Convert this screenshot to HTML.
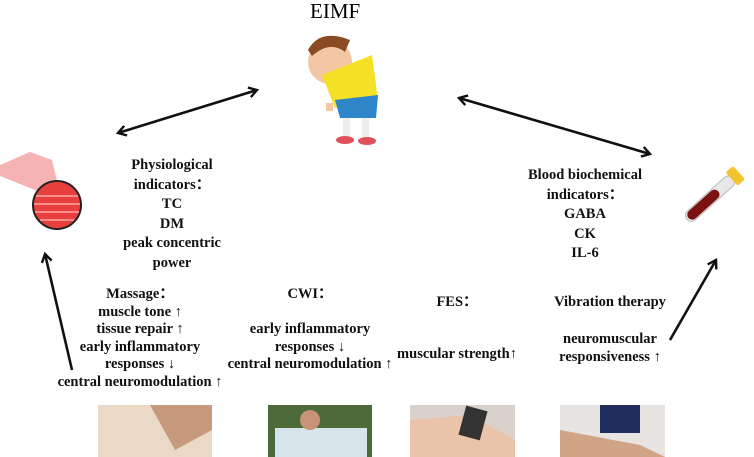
<!DOCTYPE html>
<html><head><meta charset="utf-8"><style>
body{margin:0;width:754px;height:457px;background:#fff;position:relative;overflow:hidden;font-family:"Liberation Serif",serif;}
.t{position:absolute;text-align:center;font-weight:bold;font-size:14.5px;line-height:19.5px;color:#111;white-space:nowrap;transform:translateX(-50%);}
.b{position:absolute;text-align:center;font-weight:bold;font-size:14.5px;line-height:17.5px;color:#111;white-space:nowrap;transform:translateX(-50%);}
</style></head><body>
<div style="position:absolute;left:310px;top:-1px;font-size:21px;">EIMF</div>

<svg width="754" height="457" style="position:absolute;left:0;top:0">
<defs><marker id="a" markerWidth="12" markerHeight="12" refX="9" refY="6" orient="auto-start-reverse" markerUnits="userSpaceOnUse"><path d="M1,1 L9,6 L1,11" fill="none" stroke="#111" stroke-width="2.4"/></marker></defs>
<g stroke="#111" stroke-width="2.6" fill="none">
<line x1="118" y1="133" x2="257" y2="90" marker-start="url(#a)" marker-end="url(#a)"/>
<line x1="459" y1="98" x2="650" y2="154" marker-start="url(#a)" marker-end="url(#a)"/>
<line x1="72" y1="370" x2="45" y2="254" marker-end="url(#a)"/>
<line x1="670" y1="340" x2="716" y2="260" marker-end="url(#a)"/>
</g>
<g>
<ellipse cx="330" cy="62" rx="22" ry="22" fill="#f3c7a4"/>
<path d="M308,50 Q320,28 350,40 L345,52 Q330,40 312,56Z" fill="#8a4a23"/>
<path d="M322,75 L372,55 L378,100 L335,108Z" fill="#f4e024"/>
<path d="M335,100 L378,95 L376,118 L340,118Z" fill="#2e86c9"/>
<rect x="343" y="118" width="7" height="20" fill="#eee"/><rect x="362" y="118" width="7" height="20" fill="#eee"/>
<ellipse cx="345" cy="140" rx="9" ry="4" fill="#e0505a"/><ellipse cx="367" cy="141" rx="9" ry="4" fill="#e0505a"/>
<rect x="326" y="103" width="7" height="8" fill="#f3c7a4"/>
</g>
<path d="M0,165 L30,152 L52,160 L58,185 L40,192 L0,176Z" fill="#f3a1a0" opacity="0.8"/>
<circle cx="57" cy="205" r="24" fill="#e8403f" stroke="#222" stroke-width="2"/>
<g stroke="#f58b8b" stroke-width="2"><line x1="36" y1="196" x2="78" y2="196"/><line x1="34" y1="204" x2="80" y2="204"/><line x1="35" y1="212" x2="79" y2="212"/><line x1="40" y1="220" x2="74" y2="220"/></g>
<g transform="rotate(-42 710 200)">
<rect x="680" y="193" width="62" height="12" rx="6" fill="#e8e8e8" stroke="#bbb"/>
<rect x="682" y="194" width="40" height="10" rx="5" fill="#7a1210"/>
<rect x="740" y="190" width="10" height="18" rx="2" fill="#f4c430"/>
</g>
<rect x="98" y="405" width="114" height="52" fill="#e9d9c6"/>
<path d="M150,405 L212,405 L212,430 L175,450 Z" fill="#c79a7d"/>
<rect x="268" y="405" width="104" height="52" fill="#4d6a3a"/>
<rect x="275" y="428" width="92" height="29" fill="#d8e4ec"/>
<ellipse cx="310" cy="420" rx="10" ry="10" fill="#c89478"/>
<rect x="410" y="405" width="105" height="52" fill="#d9d2cc"/>
<path d="M410,420 L470,415 L515,440 L515,457 L410,457Z" fill="#e9c3aa"/>
<rect x="462" y="408" width="22" height="30" fill="#333" transform="rotate(15 473 423)"/>
<rect x="560" y="405" width="105" height="52" fill="#e8e4e2"/>
<rect x="600" y="405" width="40" height="28" fill="#1f2e5a"/>
<path d="M560,430 L640,445 L665,457 L560,457Z" fill="#d2a487"/>
</svg>

<div class="t" style="left:172px;top:156px;">Physiological<br>indicators：<br>TC<br>DM<br>peak concentric<br>power</div>
<div class="t" style="left:585px;top:166px;">Blood biochemical<br>indicators：<br>GABA<br>CK<br>IL-6</div>

<div class="b" style="left:140px;top:286px;">Massage：<br>muscle tone ↑<br>tissue repair ↑<br>early inflammatory<br>responses ↓<br>central neuromodulation ↑</div>
<div class="b" style="left:310px;top:286px;">CWI：<br>&nbsp;<br>early inflammatory<br>responses ↓<br>central neuromodulation ↑</div>
<div class="b" style="left:457px;top:294px;">FES：</div>
<div class="b" style="left:457px;top:346px;">muscular strength↑</div>
<div class="b" style="left:610px;top:294px;">Vibration therapy</div>
<div class="b" style="left:610px;top:331px;">neuromuscular<br>responsiveness ↑</div>
</body></html>
